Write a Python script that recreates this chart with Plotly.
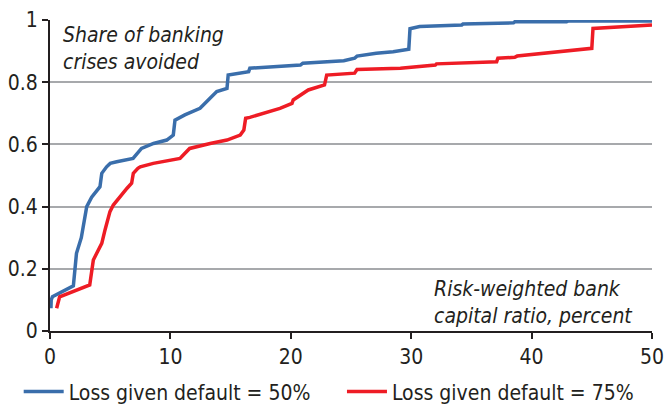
import plotly.graph_objects as go

# capital ratio (x) and share of crises avoided (y)
lgd50_x = [0.08, 0.1, 0.2, 1.94, 2.2, 2.6, 3.05, 3.46, 4.15, 4.3, 4.7, 5.0, 5.54, 6.9, 7.6,
           8.6, 9.7, 10.24, 10.38, 11.2, 12.46, 13.0, 13.3, 13.85, 14.7, 14.8, 16.5, 16.6,
           20.8, 21.0, 24.4, 25.3, 25.5, 27.1, 28.5, 29.8, 29.9, 30.7, 34.2, 34.3, 38.5,
           38.6, 42.9, 43.05, 50.0]
lgd50_y = [0.073, 0.1, 0.11, 0.145, 0.25, 0.30, 0.40, 0.43, 0.464, 0.507, 0.528, 0.539,
           0.544, 0.555, 0.587, 0.603, 0.614, 0.630, 0.678, 0.695, 0.716, 0.737, 0.748,
           0.77, 0.78, 0.823, 0.834, 0.845, 0.855, 0.861, 0.869, 0.877, 0.884, 0.893,
           0.898, 0.906, 0.972, 0.979, 0.984, 0.987, 0.991, 0.994, 0.994, 0.997, 0.997]

lgd75_x = [0.55, 0.7, 0.8, 3.3, 3.6, 3.88, 4.3, 4.57, 4.98, 5.26, 5.81, 6.4, 6.78, 6.92,
           7.3, 7.5, 8.58, 10.8, 11.07, 11.6, 13.3, 14.7, 15.8, 16.1, 16.25, 16.6, 19.1,
           20.1, 20.2, 21.45, 22.8, 22.98, 25.3, 25.5, 29.1, 32.0, 32.1, 37.1, 37.2, 38.6,
           38.8, 41.25, 45.0, 45.1, 50.0]
lgd75_y = [0.073, 0.1, 0.11, 0.148, 0.228, 0.25, 0.282, 0.325, 0.384, 0.405, 0.432, 0.459,
           0.475, 0.507, 0.523, 0.528, 0.539, 0.555, 0.566, 0.587, 0.603, 0.614, 0.63,
           0.646, 0.684, 0.687, 0.716, 0.732, 0.743, 0.775, 0.791, 0.823, 0.829, 0.841,
           0.845, 0.855, 0.859, 0.866, 0.877, 0.88, 0.884, 0.893, 0.909, 0.973, 0.984]

x_ticks = [0, 10, 20, 30, 40, 50]
y_ticks = [0, 0.2, 0.4, 0.6, 0.8, 1]
y_tick_labels = ['0', '0.2', '0.4', '0.6', '0.8', '1']

font_family = 'DejaVu Sans Condensed, Roboto, sans-serif'
blue = '#3a6eab'
red = '#ee1c25'
ink = '#231f20'
fs = 21

fig = go.Figure()

fig.add_trace(go.Scatter(x=lgd50_x, y=lgd50_y, mode='lines',
                         name='Loss given default = 50%', legend='legend',
                         line=dict(color=blue, width=3.5)))
fig.add_trace(go.Scatter(x=lgd75_x, y=lgd75_y, mode='lines',
                         name='Loss given default = 75%', legend='legend2',
                         line=dict(color=red, width=3.5)))

fig.update_xaxes(range=[0, 50], tickvals=x_ticks, showgrid=False, automargin=False,
                 showline=True, linecolor=ink, linewidth=2,
                 ticks='outside', ticklen=6, tickwidth=2, tickcolor=ink,
                 tickfont=dict(size=fs, color=ink), zeroline=False)
fig.update_yaxes(range=[0, 1.0], tickvals=y_ticks, ticktext=y_tick_labels, automargin=False,
                 showgrid=True, gridcolor='#a7a9ac', gridwidth=1.5,
                 showline=True, linecolor=ink, linewidth=2,
                 ticks='outside', ticklen=6, tickwidth=2, tickcolor=ink,
                 tickfont=dict(size=fs, color=ink), zeroline=False)

fig.add_annotation(x=0, y=1, xref='paper', yref='paper', xanchor='left', yanchor='top',
                   xshift=11, yshift=-1, align='left', showarrow=False,
                   text='<i>Share of banking<br>crises avoided</i>',
                   font=dict(size=fs, color=ink))
fig.add_annotation(x=1, y=0, xref='paper', yref='paper', xanchor='right', yanchor='bottom',
                   xshift=-18, yshift=1, align='left', showarrow=False,
                   text='<i>Risk-weighted bank<br>capital ratio, percent</i>',
                   font=dict(size=fs, color=ink))

leg = dict(orientation='h', xanchor='left', yanchor='middle', yref='paper',
           y=-0.196, font=dict(size=fs), itemwidth=40, bgcolor='rgba(0,0,0,0)')

fig.update_layout(
    width=665, height=408,
    margin=dict(l=50, r=13, t=20, b=77, autoexpand=False),
    plot_bgcolor='white', paper_bgcolor='white',
    font=dict(family=font_family, size=fs, color=ink),
    showlegend=True,
    legend=dict(leg, x=-0.052),
    legend2=dict(leg, x=0.485),
)

# drop the browser's default 8px page margin so the chart sits at the window corner
fig.write_html("out.html", config={'displayModeBar': False},
               post_script="document.body.style.margin='0px';")
